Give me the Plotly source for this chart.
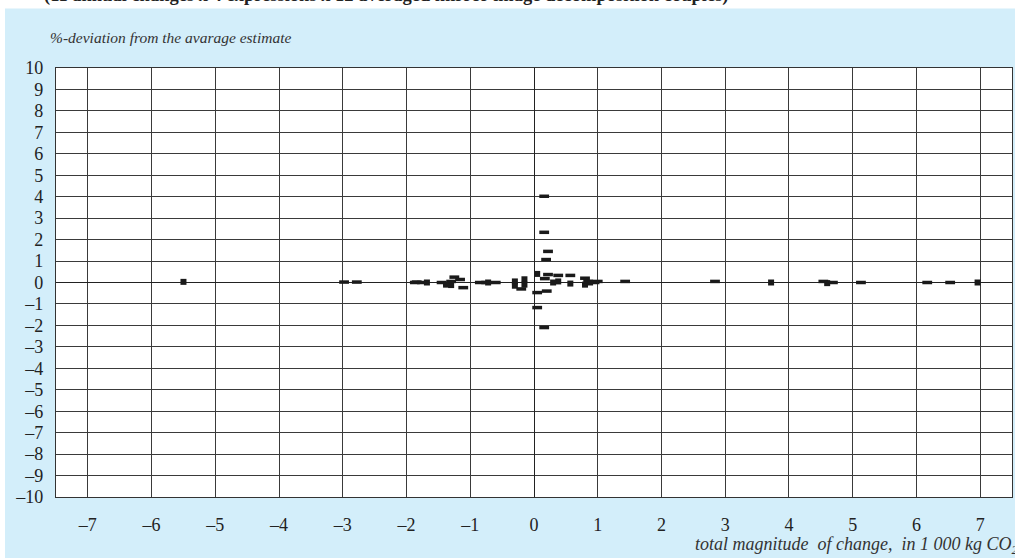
import plotly.graph_objects as go

# --- data ---
dash_x = [-2.98, -2.78, -1.84, -1.87, -1.76, -1.45, -1.35, -1.25, -1.16, -1.11,
          -0.85, -0.75, -0.6, -0.2, 0.16, 0.16, 0.22, 0.19, 0.22, 0.17, 0.38, 0.57,
          0.05, 0.2, 0.05, 0.16, 1.0, 1.43, 2.84, 4.54, 4.69, 5.13, 6.17, 6.53,
          0.8, -1.3, 0.95]
dash_y = [0.02, 0.02, 0.02, 0.0, 0.0, 0.0, -0.1, 0.25, 0.14, -0.24,
          0.0, 0.0, 0.0, -0.3, 4.02, 2.34, 1.45, 1.07, 0.37, 0.18, 0.33, 0.33,
          -0.47, -0.4, -1.17, -2.1, 0.05, 0.05, 0.05, 0.05, 0.0, 0.0, 0.0, 0.0,
          0.2, 0.05, 0.0]
sq_x = [-5.5, -1.68, -1.38, -1.3, -0.72, -0.3, -0.3, -0.15, -0.15, 0.05, 0.38,
        0.57, 0.8, 0.82, 0.88, 3.72, 4.6, 6.96, 0.3]
sq_y = [0.03, 0.0, -0.1, -0.12, 0.0, 0.05, -0.15, 0.15, -0.1, 0.4, 0.05,
        -0.05, -0.1, 0.1, 0.0, 0.0, -0.03, 0.0, 0.0]

x_ticks = [-7, -6, -5, -4, -3, -2, -1, 0, 1, 2, 3, 4, 5, 6, 7]
y_ticks = list(range(-10, 11))

def lab(v):
    return ("\u2013" + str(-v)) if v < 0 else str(v)

title_text = "(11 annual changes x 4 expressions x 12 averaged mirror image decomposition couples)"
ytitle_text = "%-deviation from the avarage estimate"
xtitle_text = "total magnitude  of change,  in 1 000 kg CO<sub>2</sub>"

FONT = "Liberation Serif"
W, H = 1015, 558
L, R, T, B = 56, 1012, 68, 497
pw, ph = R - L, B - T

def px(xp):
    return (xp - L) / pw

def py(yp):
    return (B - yp) / ph

fig = go.Figure()
fig.add_trace(go.Scatter(
    x=dash_x, y=dash_y, mode="markers",
    marker=dict(symbol="line-ew", size=7, color="#1a1a1a",
                line=dict(color="#1a1a1a", width=3.5)),
    hoverinfo="x+y", showlegend=False))
fig.add_trace(go.Scatter(
    x=sq_x, y=sq_y, mode="markers",
    marker=dict(symbol="square", size=6, color="#1a1a1a", line=dict(width=0)),
    hoverinfo="x+y", showlegend=False))

fig.update_layout(
    width=W, height=H,
    margin=dict(l=L, r=W - R, t=T, b=H - B, pad=0),
    paper_bgcolor="white",
    plot_bgcolor="rgba(0,0,0,0)",
    font=dict(family=FONT, size=18, color="#222"),
    showlegend=False,
    shapes=[
        dict(type="rect", xref="paper", yref="paper", layer="below",
             x0=px(5), x1=px(1016), y0=py(559), y1=py(8.5),
             fillcolor="#d3eefa", line=dict(width=0)),
        dict(type="rect", xref="paper", yref="paper", layer="below",
             x0=0, x1=1, y0=0, y1=1, fillcolor="white", line=dict(width=0)),
    ],
    annotations=[
        dict(text="<b>" + title_text + "</b>", xref="paper", yref="paper",
             x=px(42), y=py(-4), xanchor="left", yanchor="middle",
             showarrow=False, font=dict(family=FONT, size=18.5, color="#222")),
        dict(text="<i>" + ytitle_text + "</i>", xref="paper", yref="paper",
             x=px(48), y=py(38), xanchor="left", yanchor="middle",
             showarrow=False, font=dict(family=FONT, size=15.5, color="#333")),
        dict(text="<i>" + xtitle_text + "</i>", xref="paper", yref="paper",
             x=px(693), y=py(545), xanchor="left", yanchor="middle",
             showarrow=False, font=dict(family=FONT, size=18, color="#333")),
    ],
)

fig.update_xaxes(
    range=[-7.5, 7.5], tickmode="array", tickvals=x_ticks,
    ticktext=[lab(v) for v in x_ticks], ticks="", ticklabelstandoff=11,
    showgrid=True, gridcolor="#3a3a3a", gridwidth=1,
    zeroline=True, zerolinecolor="#222", zerolinewidth=1.3,
    showline=True, linecolor="#333", linewidth=1.3, mirror=True,
    tickfont=dict(family=FONT, size=18, color="#222"), fixedrange=True)
fig.update_yaxes(
    range=[-10, 10], tickmode="array", tickvals=y_ticks,
    ticktext=[lab(v) for v in y_ticks], ticks="", ticklabelstandoff=8,
    showgrid=True, gridcolor="#3a3a3a", gridwidth=1,
    zeroline=True, zerolinecolor="#222", zerolinewidth=1.3,
    showline=True, linecolor="#333", linewidth=1.3, mirror=True,
    tickfont=dict(family=FONT, size=18, color="#222"), fixedrange=True)

fig.write_html("out.html",
               config={"displayModeBar": False},
               post_script="document.body.style.margin='0px';"
                           "document.body.style.overflow='hidden';")
